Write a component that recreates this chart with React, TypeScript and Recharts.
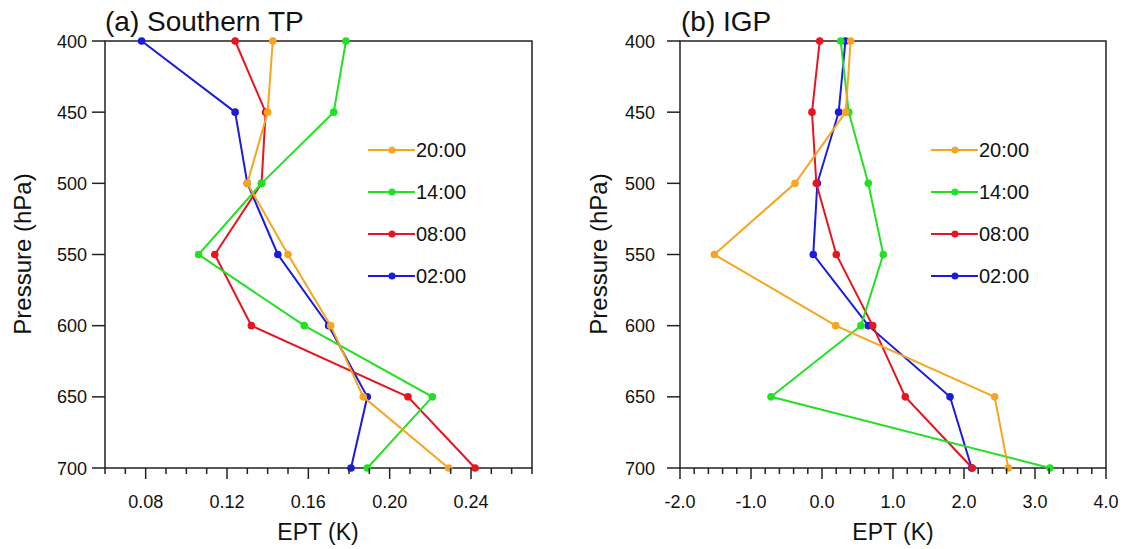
import { ScatterChart, Scatter, XAxis, YAxis, ReferenceArea, Legend } from 'recharts';

// pressure levels (hPa), shared by both panels
const pressure = [400, 450, 500, 550, 600, 650, 700];

// (a) Southern TP, EPT (K)
const stp02 = [0.078, 0.124, 0.130, 0.145, 0.170, 0.189, 0.181];
const stp08 = [0.124, 0.139, 0.137, 0.114, 0.132, 0.209, 0.242];
const stp14 = [0.1785, 0.1725, 0.137, 0.106, 0.158, 0.221, 0.189];
const stp20 = [0.1425, 0.140, 0.130, 0.150, 0.171, 0.187, 0.229];

// (b) IGP, EPT (K)
const igp02 = [0.33, 0.235, -0.066, -0.123, 0.652, 1.803, 2.108];
const igp08 = [-0.032, -0.141, -0.08, 0.201, 0.714, 1.173, 2.117];
const igp14 = [0.263, 0.376, 0.652, 0.863, 0.549, -0.718, 3.211];
const igp20 = [0.404, 0.334, -0.38, -1.517, 0.193, 2.432, 2.624];

const times = ['02:00', '08:00', '14:00', '20:00'];
const colors = ['#1a1ae0', '#e8141e', '#22e022', '#f7a51e'];
const legendOrder = [3, 2, 1, 0];

const stpTicks = [0.08, 0.12, 0.16, 0.2, 0.24];
const igpTicks = [-2, -1, 0, 1, 2, 3, 4];
const pTicks = [400, 450, 500, 550, 600, 650, 700];

const range = (a: number, b: number, step: number) => {
  const out: number[] = [];
  for (let i = 0; a + i * step <= b + 1e-9; i++) out.push(+(a + i * step).toFixed(4));
  return out;
};

const toPoints = (vals: number[]) => vals.map((x, i) => ({ x, p: pressure[i] }));

const AX = '#222';

const makeXTick = (majors: number[], digits: number) => (props: any) => {
  const { x, y, payload } = props;
  const major = majors.some(m => Math.abs(m - payload.value) < 1e-6);
  return (
    <g>
      <line x1={x} x2={x} y1={y} y2={y + (major ? 11 : 6)} stroke={AX} strokeWidth={1.5} />
      {major && (
        <text x={x} y={y + 40} textAnchor="middle" fontSize={18} fill="#111">
          {payload.value.toFixed(digits)}
        </text>
      )}
    </g>
  );
};

const makeYTick = (gap: number) => (props: any) => {
  const { x, y, payload } = props;
  return (
    <g>
      <line x1={x - 13} x2={x} y1={y} y2={y} stroke={AX} strokeWidth={1.5} />
      <text x={x - gap} y={y + 6.5} textAnchor="end" fontSize={18} fill="#111">
        {payload.value}
      </text>
    </g>
  );
};

const LegendBox = () => (
  <svg width={120} height={150}>
    {legendOrder.map((s, i) => (
      <g key={times[s]}>
        <line x1={0} x2={47} y1={12 + i * 42} y2={12 + i * 42} stroke={colors[s]} strokeWidth={2} />
        <circle cx={24} cy={12 + i * 42} r={3.5} fill={colors[s]} />
        <text x={48} y={19 + i * 42} fontSize={20} fill="#111">{times[s]}</text>
      </g>
    ))}
  </svg>
);

type PanelProps = {
  series: number[][];
  domain: [number, number];
  minor: number[];
  majors: number[];
  digits: number;
  width: number;
  yWidth: number;
  right: number;
  gap: number;
  legendLeft: number;
};

function Panel({ series, domain, minor, majors, digits, width, yWidth, right, gap, legendLeft }: PanelProps) {
  return (
    <ScatterChart width={width} height={549} margin={{ top: 41, right, bottom: 0, left: 0 }}>
      <XAxis
        type="number"
        dataKey="x"
        domain={domain}
        ticks={minor}
        interval={0}
        allowDataOverflow
        height={81}
        tickSize={0}
        tickMargin={0}
        axisLine={false}
        tickLine={false}
        tick={makeXTick(majors, digits)}
      />
      <YAxis
        type="number"
        dataKey="p"
        domain={[400, 700]}
        reversed
        ticks={pTicks}
        interval={0}
        width={yWidth}
        tickSize={0}
        tickMargin={0}
        axisLine={false}
        tickLine={false}
        tick={makeYTick(gap)}
      />
      <ReferenceArea x1={domain[0]} x2={domain[1]} y1={400} y2={700} fill="none" stroke={AX} strokeWidth={1.5} ifOverflow="visible" />
      {series.map((vals, s) => (
        <Scatter
          key={times[s]}
          name={times[s]}
          data={toPoints(vals)}
          fill={colors[s]}
          line={{ stroke: colors[s], strokeWidth: 2 }}
          lineType="joint"
          shape={(p: any) => <circle cx={p.cx} cy={p.cy} r={3.8} fill={colors[s]} />}
          isAnimationActive={false}
        />
      ))}
      <Legend
        layout="vertical"
        align="center"
        verticalAlign="middle"
        content={() => <LegendBox />}
        wrapperStyle={{ left: legendLeft, top: 138, width: 120, height: 150 }}
      />
    </ScatterChart>
  );
}

export default function App() {
  return (
    <div
      style={{
        position: 'absolute',
        left: 0,
        top: 0,
        width: 1126,
        height: 549,
        background: '#fff',
        fontFamily: "'Liberation Sans', Arial, sans-serif",
      }}
    >
      <div style={{ position: 'absolute', left: 0, top: 0 }}>
        <Panel
          series={[stp02, stp08, stp14, stp20]}
          domain={[0.06, 0.27]}
          minor={range(0.06, 0.27, 0.01)}
          majors={stpTicks}
          digits={2}
          width={560}
          yWidth={105}
          right={28}
          gap={18}
          legendLeft={368}
        />
      </div>
      <div style={{ position: 'absolute', left: 560, top: 0 }}>
        <Panel
          series={[igp02, igp08, igp14, igp20]}
          domain={[-2, 4]}
          minor={range(-2, 4, 0.2)}
          majors={igpTicks}
          digits={1}
          width={566}
          yWidth={120}
          right={20}
          gap={25}
          legendLeft={371}
        />
      </div>
      <svg width={1126} height={549} style={{ position: 'absolute', left: 0, top: 0, pointerEvents: 'none' }}>
        <text x={105} y={31} fontSize={28} fill="#111">(a) Southern TP</text>
        <text x={681} y={31} fontSize={28} fill="#111">(b) IGP</text>
        <text x={318} y={540} fontSize={23} textAnchor="middle" fill="#111">EPT (K)</text>
        <text x={893} y={540} fontSize={23} textAnchor="middle" fill="#111">EPT (K)</text>
        <text transform="translate(31 254) rotate(-90)" fontSize={24} textAnchor="middle" fill="#111">Pressure (hPa)</text>
        <text transform="translate(607 254) rotate(-90)" fontSize={24} textAnchor="middle" fill="#111">Pressure (hPa)</text>
      </svg>
    </div>
  );
}
